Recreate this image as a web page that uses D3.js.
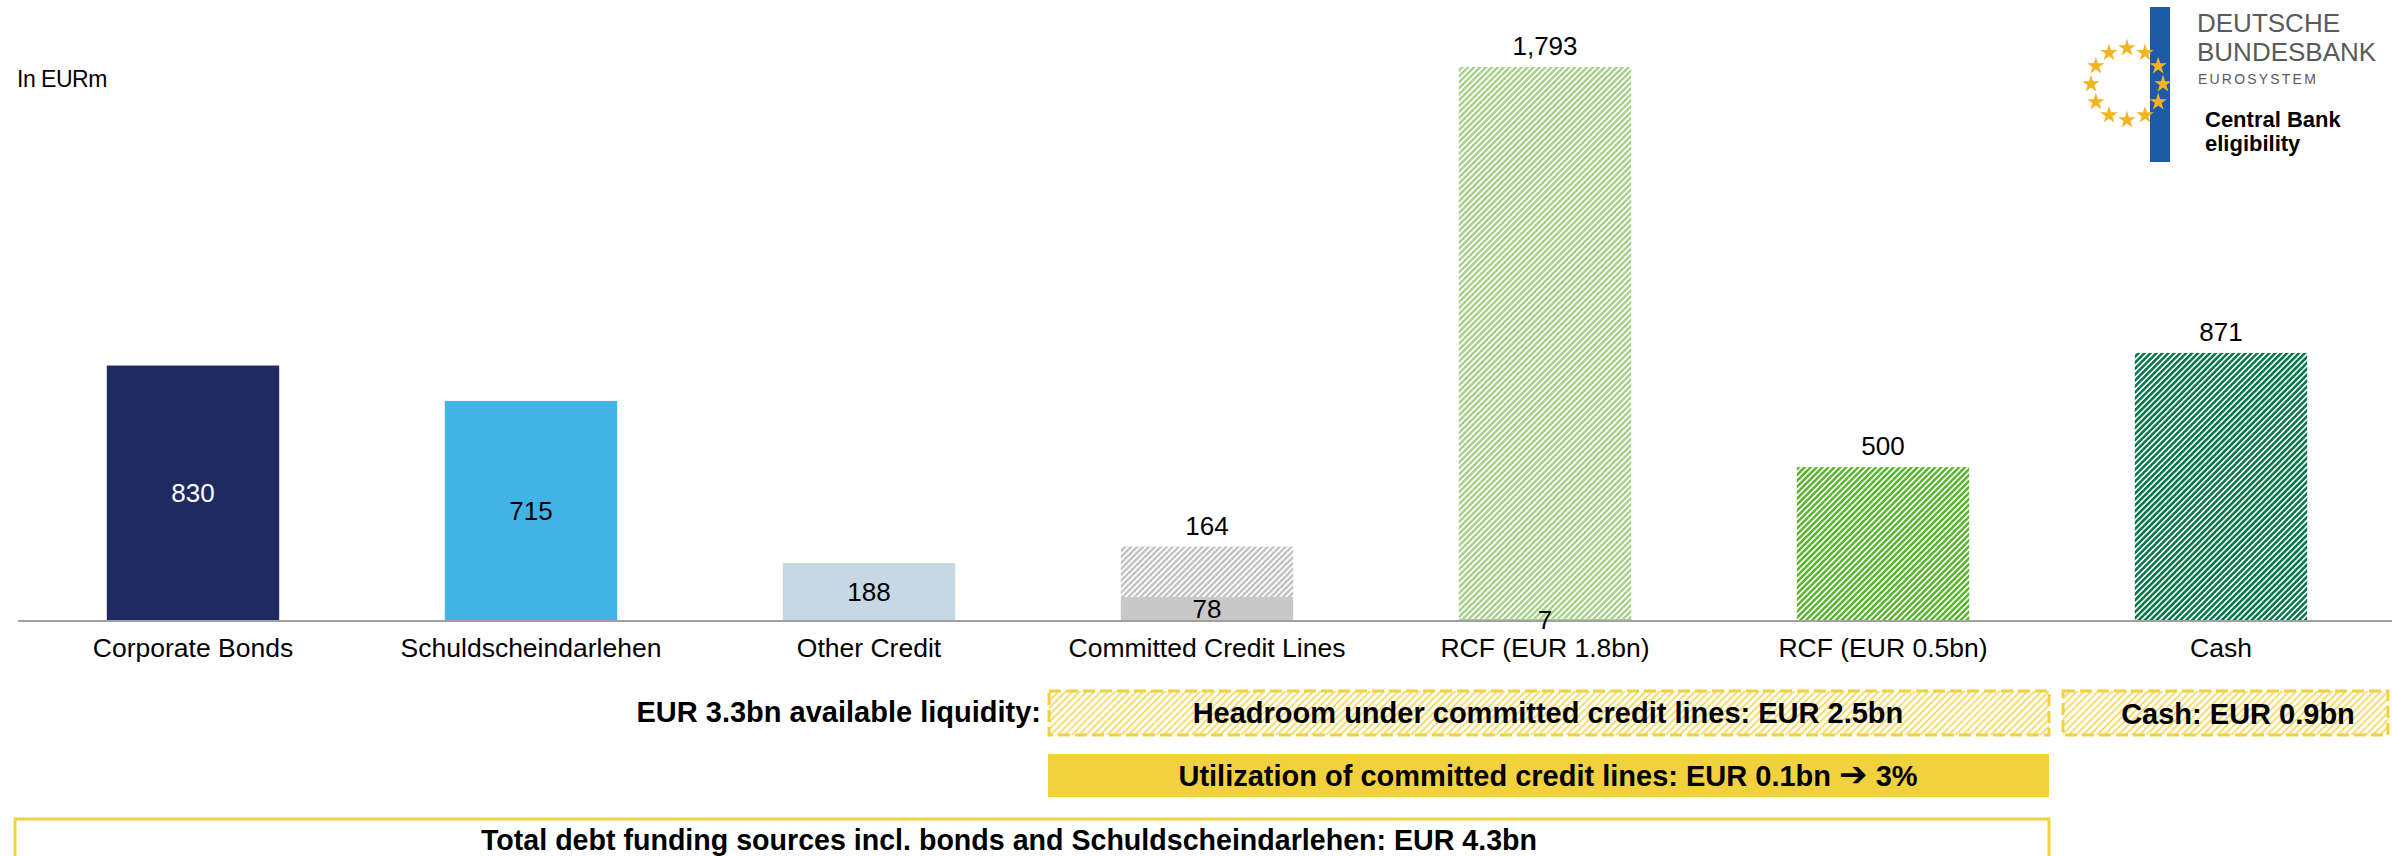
<!DOCTYPE html>
<html>
<head>
<meta charset="utf-8">
<script src="https://cdn.jsdelivr.net/npm/d3@7"></script>
<style>
  body { margin: 0; background: #fff; }
  text { font-family: "Liberation Sans", Arial, sans-serif; }
</style>
</head>
<body>
<div id="chart"></div>
<script>
// chart values (EURm)
var categories = ["Corporate Bonds", "Schuldscheindarlehen", "Other Credit",
  "Committed Credit Lines", "RCF (EUR 1.8bn)", "RCF (EUR 0.5bn)", "Cash"];
var drawn = [830, 715, 188, 78, 7, 0, 0];          // solid part
var undrawn = [0, 0, 0, 164, 1793, 500, 871];      // hatched part
var drawnColors = ["#1f2a63", "#41b4e5", "#c6d8e4", "#c8c8c8", "#a9d18e", "#5ab52f", "#00784a"];
var hatchColors = ["#1f2a63", "#41b4e5", "#c6d8e4", "#c4c4c4", "#a9d18e", "#5ab52f", "#00784a"];
var labelColors = ["#fff", "#000", "#000", "#000", "#000", "#000", "#000"];

var svgWidth = 2392;
var svgHeight = 856;

var svg = d3.select("#chart").append("svg")
  .attr("width", svgWidth)
  .attr("height", svgHeight);

var defs = svg.append("defs");

// diagonal hatch patterns
function hatch(id, color, size, stroke) {
  var p = defs.append("pattern")
    .attr("id", id)
    .attr("patternUnits", "userSpaceOnUse")
    .attr("width", size)
    .attr("height", size)
    .attr("patternTransform", "rotate(45)");
  p.append("rect").attr("width", size).attr("height", size).attr("fill", "#fff");
  p.append("line")
    .attr("x1", size / 2).attr("x2", size / 2)
    .attr("y1", 0).attr("y2", size)
    .attr("stroke", color)
    .attr("stroke-width", stroke);
}
hatchColors.forEach(function(c, i) { hatch("hatch" + i, c, 4.2, 2.5); });
hatch("hatchYellow", "#f2d13f", 5, 1.5);

var data = categories.map(function(c, i) {
  return { cat: c, drawn: drawn[i], undrawn: undrawn[i], i: i };
});

var x = d3.scaleBand()
  .domain(categories)
  .range([24, 2390])
  .paddingInner(0.49)
  .paddingOuter(0.245);

var y = d3.scaleLinear()
  .domain([0, d3.max(data, d => d.drawn + d.undrawn)])
  .range([621, 67]);

// solid bars
svg.selectAll(".drawn")
  .data(data.filter(d => d.drawn > 0))
  .enter()
  .append("rect")
  .attr("x", d => x(d.cat))
  .attr("width", x.bandwidth())
  .attr("y", d => y(d.drawn))
  .attr("height", d => y(0) - y(d.drawn))
  .attr("fill", d => drawnColors[d.i]);

// hatched bars
svg.selectAll(".undrawn")
  .data(data.filter(d => d.undrawn > 0))
  .enter()
  .append("rect")
  .attr("x", d => x(d.cat))
  .attr("width", x.bandwidth())
  .attr("y", d => y(d.drawn + d.undrawn))
  .attr("height", d => y(d.drawn) - y(d.drawn + d.undrawn))
  .attr("fill", d => "url(#hatch" + d.i + ")");

// axis
var xAxis = svg.append("g")
  .attr("transform", "translate(0, 621)")
  .call(d3.axisBottom(x).tickSize(0).tickPadding(17));
xAxis.select(".domain").attr("stroke", "#a0a0a0").attr("stroke-width", 2)
  .attr("d", "M18,0H2392");
xAxis.selectAll("text")
  .attr("font-size", 26.5)
  .attr("font-family", "Liberation Sans, Arial, sans-serif")
  .attr("fill", "#000");

var fmt = d3.format(",");

// labels inside solid bars
svg.selectAll(".inLabel")
  .data(data.filter(d => d.drawn > 0))
  .enter()
  .append("text")
  .attr("x", d => x(d.cat) + x.bandwidth() / 2)
  .attr("y", d => (y(d.drawn) + y(0)) / 2 + 9)
  .attr("text-anchor", "middle")
  .attr("font-size", 26)
  .attr("fill", d => labelColors[d.i])
  .text(d => fmt(d.drawn));

// labels above hatched bars
svg.selectAll(".topLabel")
  .data(data.filter(d => d.undrawn > 0))
  .enter()
  .append("text")
  .attr("x", d => x(d.cat) + x.bandwidth() / 2)
  .attr("y", d => y(d.drawn + d.undrawn) - 12)
  .attr("text-anchor", "middle")
  .attr("font-size", 26)
  .attr("fill", "#000")
  .text(d => fmt(d.undrawn));

// unit
svg.append("text")
  .attr("x", 17).attr("y", 87)
  .attr("font-size", 23)
  .attr("letter-spacing", -0.5)
  .text("In EURm");

// bottom annotation boxes
svg.append("text")
  .attr("x", 1041).attr("y", 722)
  .attr("text-anchor", "end")
  .attr("font-size", 29).attr("font-weight", "bold")
  .text("EUR 3.3bn available liquidity:");

svg.append("rect")
  .attr("x", 1049).attr("y", 691).attr("width", 1000).attr("height", 44)
  .attr("fill", "url(#hatchYellow)")
  .attr("stroke", "#f2d13f").attr("stroke-width", 3)
  .attr("stroke-dasharray", "12,5");
svg.append("text")
  .attr("x", 1548).attr("y", 723)
  .attr("text-anchor", "middle")
  .attr("font-size", 29).attr("font-weight", "bold")
  .text("Headroom under committed credit lines: EUR 2.5bn");

svg.append("rect")
  .attr("x", 2063).attr("y", 691).attr("width", 325).attr("height", 44)
  .attr("fill", "url(#hatchYellow)")
  .attr("stroke", "#f2d13f").attr("stroke-width", 3)
  .attr("stroke-dasharray", "12,5");
svg.append("text")
  .attr("x", 2238).attr("y", 724)
  .attr("text-anchor", "middle")
  .attr("font-size", 29).attr("font-weight", "bold")
  .text("Cash: EUR 0.9bn");

svg.append("rect")
  .attr("x", 1048).attr("y", 754).attr("width", 1001).attr("height", 43)
  .attr("fill", "#f2d13f");
var util = svg.append("text")
  .attr("x", 1548).attr("y", 786)
  .attr("text-anchor", "middle")
  .attr("font-size", 29).attr("font-weight", "bold");
util.append("tspan").text("Utilization of committed credit lines: EUR 0.1bn ");
util.append("tspan").attr("font-family", "DejaVu Sans").attr("font-size", 34).text("\u2794");
util.append("tspan").text(" 3%");

svg.append("rect")
  .attr("x", 15).attr("y", 819).attr("width", 2034).attr("height", 50)
  .attr("fill", "#fff")
  .attr("stroke", "#f2d13f").attr("stroke-width", 3);
svg.append("text")
  .attr("x", 1009).attr("y", 850)
  .attr("text-anchor", "middle")
  .attr("font-size", 28.6).attr("font-weight", "bold")
  .text("Total debt funding sources incl. bonds and Schuldscheindarlehen: EUR 4.3bn");

// Bundesbank logo
var logo = svg.append("g");
logo.append("rect")
  .attr("x", 2150).attr("y", 7).attr("width", 20).attr("height", 155)
  .attr("fill", "#1f5aa6");
var star = d3.symbol().type(d3.symbolStar).size(95);
d3.range(12).forEach(function(k) {
  var a = k * Math.PI / 6;
  logo.append("path")
    .attr("d", star)
    .attr("fill", "#f3b423")
    .attr("transform", "translate(" + (2127 + 36 * Math.cos(a)) + "," + (84 + 36 * Math.sin(a)) + ")");
});
logo.append("text").attr("x", 2197).attr("y", 32)
  .attr("font-size", 26).attr("fill", "#5a5a5a").text("DEUTSCHE");
logo.append("text").attr("x", 2197).attr("y", 61)
  .attr("font-size", 26).attr("fill", "#5a5a5a").text("BUNDESBANK");
logo.append("text").attr("x", 2198).attr("y", 84)
  .attr("font-size", 14).attr("letter-spacing", 2.2).attr("fill", "#5a5a5a").text("EUROSYSTEM");
logo.append("text").attr("x", 2205).attr("y", 127)
  .attr("font-size", 22).attr("font-weight", "bold").text("Central Bank");
logo.append("text").attr("x", 2205).attr("y", 151)
  .attr("font-size", 22).attr("font-weight", "bold").text("eligibility");
</script>
</body>
</html>
